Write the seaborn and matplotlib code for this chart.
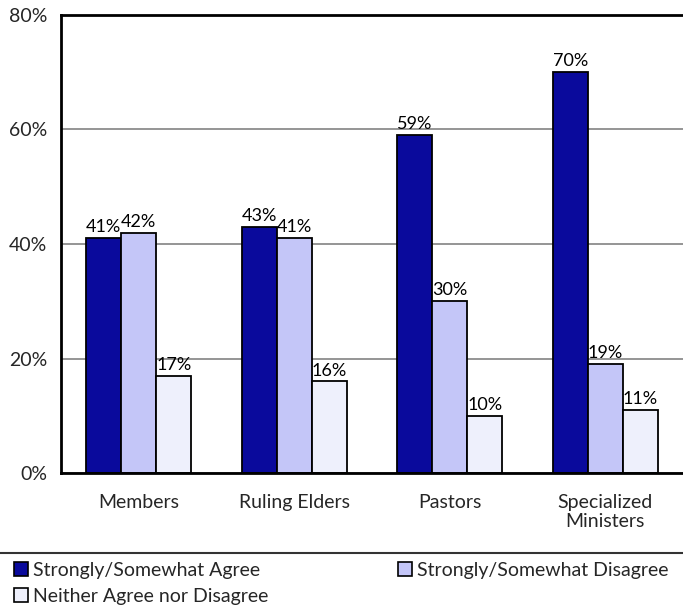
import matplotlib
matplotlib.use("Agg")
import matplotlib.pyplot as plt
from matplotlib.lines import Line2D
import seaborn as sns
import pandas as pd

groups = ["Members", "Ruling Elders", "Pastors", "Specialized\nMinisters"]
responses = ["Strongly/Somewhat Agree", "Strongly/Somewhat Disagree", "Neither Agree nor Disagree"]
agree = [41, 43, 59, 70]
disagree = [42, 41, 30, 19]
neither = [17, 16, 10, 11]
y_ticks = [0, 20, 40, 60, 80]
colors = ["#0A0A9C", "#C4C6F8", "#EEF0FC"]

df = pd.DataFrame({
    "group": groups * 3,
    "response": [responses[0]] * 4 + [responses[1]] * 4 + [responses[2]] * 4,
    "value": agree + disagree + neither,
})

sns.set_style("white")
plt.rcParams["font.family"] = ["Lato", "DejaVu Sans"]
FS = 14

fig = plt.figure(figsize=(6.83, 6.13), dpi=100)
ax = fig.add_axes([61 / 683, 1 - 473 / 613, 1 - 61 / 683, (473 - 15) / 613])

sns.barplot(data=df, x="group", y="value", hue="response", order=groups,
            hue_order=responses, palette=colors, width=0.675, ax=ax,
            edgecolor="black", linewidth=1.3, legend=False, errorbar=None,
            saturation=1)

for cont in ax.containers:
    ax.bar_label(cont, fmt="%d%%", padding=2, fontsize=13, color="black")

ax.set_xlim(-0.5, 3.5)
ax.set_ylim(0, 80)
ax.set_yticks(y_ticks)
ax.set_yticklabels([f"{v}%" for v in y_ticks], fontsize=FS)
ax.yaxis.grid(True, color="#8C8C8C", linewidth=1.3)
ax.set_axisbelow(True)
ax.set_xlabel("")
ax.set_ylabel("")

# category labels centred, ticks at the group boundaries
ax.set_xticks([0, 1, 2, 3])
ax.set_xticklabels(groups, fontsize=FS, linespacing=1.15)
ax.tick_params(axis="x", length=0, pad=15)
ax.set_xticks([-0.5, 0.5, 1.5, 2.5, 3.5], minor=True)
ax.tick_params(axis="x", which="minor", length=8, width=1.3, direction="inout", color="black")
ax.tick_params(axis="y", length=8, width=1.3, direction="inout", color="black", pad=6)

for side in ["left", "bottom", "top"]:
    ax.spines[side].set_visible(True)
    ax.spines[side].set_color("black")
    ax.spines[side].set_linewidth(2)
ax.spines["right"].set_visible(False)

handles = [plt.Rectangle((0, 0), 1, 1, facecolor=c, edgecolor="black", linewidth=1.2)
           for c in colors]
# column-major fill: first column holds Agree and Neither, second holds Disagree
order = [0, 2, 1]
fig.legend([handles[i] for i in order], [responses[i] for i in order],
           loc="upper left", bbox_to_anchor=(0.015, 1 - 558 / 613),
           ncol=2, frameon=False, fontsize=FS, handlelength=0.7, handleheight=0.7,
           handletextpad=0.25, columnspacing=6.7, labelspacing=0.45, borderaxespad=0,
           borderpad=0.2)
fig.add_artist(Line2D([0, 1], [1 - 553 / 613] * 2, color="#333333", linewidth=1.5,
                      transform=fig.transFigure))

fig.savefig("out.png", dpi=100)
